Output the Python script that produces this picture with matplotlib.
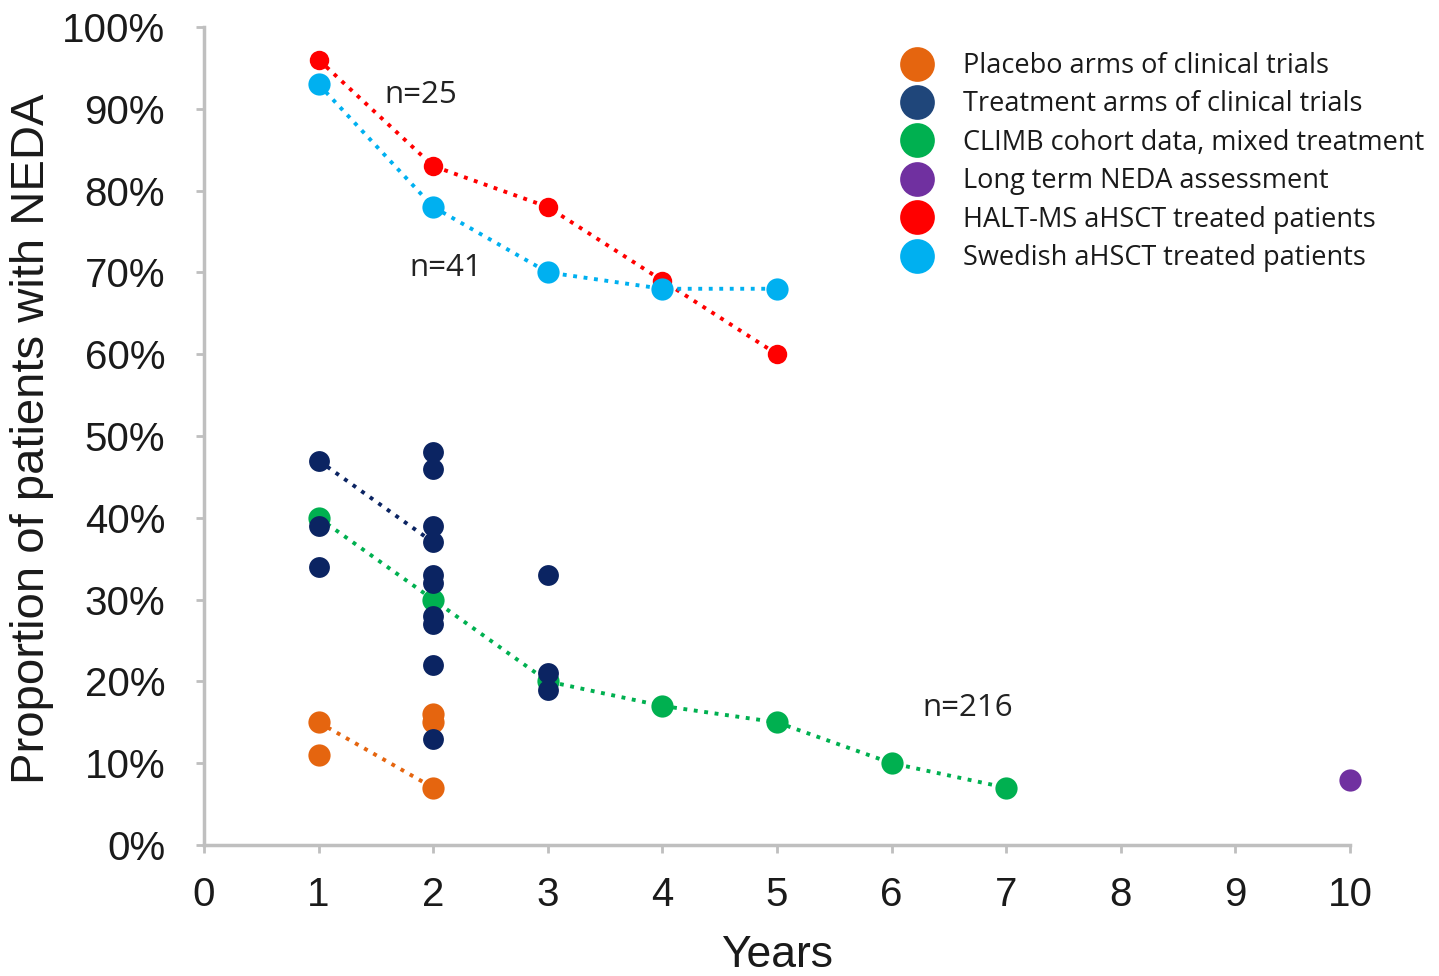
import matplotlib
matplotlib.use("Agg")
import matplotlib.pyplot as plt
from matplotlib.lines import Line2D

# ---- data (percent) ----
placebo_x = [1, 1, 2, 2, 2]
placebo_y = [15, 11, 16, 15, 7]
placebo_line_x = [1, 2]
placebo_line_y = [15, 7]

treat_x = [1, 1, 1, 2, 2, 2, 2, 2, 2, 2, 2, 2, 2, 3, 3, 3]
treat_y = [47, 39, 34, 48, 46, 39, 37, 33, 32, 28, 27, 22, 13, 33, 21, 19]
treat_line_x = [1, 2]
treat_line_y = [47, 37]

climb_x = [1, 2, 3, 4, 5, 6, 7]
climb_y = [40, 30, 20, 17, 15, 10, 7]

longterm_x = [10]
longterm_y = [8]

halt_x = [1, 2, 3, 4, 5]
halt_y = [96, 83, 78, 69, 60]

swed_x = [1, 2, 3, 4, 5]
swed_y = [93, 78, 70, 68, 68]

labels = ["Placebo arms of clinical trials",
          "Treatment arms of clinical trials",
          "CLIMB cohort data, mixed treatment",
          "Long term NEDA assessment",
          "HALT-MS aHSCT treated patients",
          "Swedish aHSCT treated patients"]

annot_text = ["n=25", "n=41", "n=216"]
annot_x = [1.89, 2.11, 6.66]
annot_y = [91.7, 70.5, 16.7]

xticks = list(range(0, 11))
yticks = list(range(0, 101, 10))

# ---- colours ----
c_orange = "#E5650F"
c_navy = "#0B2462"
c_navy_leg = "#1F467A"
c_green = "#00B050"
c_purple = "#7030A0"
c_red = "#FF0000"
c_cyan = "#00B0F0"

fig = plt.figure(figsize=(14.39, 9.76), dpi=100)
ax = fig.add_axes([204/1439, 1-845/976, (1350-204)/1439, (845-27)/976])

ls = (0, (1, 1.7))
lw = 2.8

# lines
ax.plot(halt_x, halt_y, color=c_red, ls=ls, lw=lw, zorder=2)
ax.plot(swed_x, swed_y, color=c_cyan, ls=ls, lw=lw, zorder=2)
ax.plot(climb_x, climb_y, color=c_green, ls=ls, lw=lw, zorder=2)
ax.plot(treat_line_x, treat_line_y, color=c_navy, ls=ls, lw=lw, zorder=2)
ax.plot(placebo_line_x, placebo_line_y, color=c_orange, ls=ls, lw=lw, zorder=2)

# points
kw = dict(mec='none', clip_on=False, ls='none', marker='o')
ax.plot(halt_x, halt_y, color=c_red, ms=14, zorder=3, **kw)
ax.plot(swed_x, swed_y, color=c_cyan, ms=16, zorder=4, **kw)
ax.plot(climb_x, climb_y, color=c_green, ms=16, zorder=3, **kw)
ax.plot(treat_x, treat_y, color=c_navy, ms=15, zorder=4, **kw)
ax.plot(placebo_x, placebo_y, color=c_orange, ms=16, zorder=3, **kw)
ax.plot(longterm_x, longterm_y, color=c_purple, ms=16, zorder=3, **kw)

for t, x, y in zip(annot_text, annot_x, annot_y):
    ax.text(x, y, t, ha='center', va='center', fontsize=22.5, family='Open Sans', color='#222222')

ax.set_xlim(0, 10)
ax.set_ylim(0, 100)
ax.set_xticks(xticks)
ax.set_yticks(yticks)
ax.set_yticklabels([f"{v}%" for v in yticks])
for s in ['top', 'right']:
    ax.spines[s].set_visible(False)
for s in ['left', 'bottom']:
    ax.spines[s].set_color('#BFBFBF')
    ax.spines[s].set_linewidth(2.5)
ax.tick_params(axis='both', colors='#BFBFBF', width=2, length=6, direction='out',
               labelcolor='#1a1a1a', labelsize=29)
ax.tick_params(axis='y', pad=22)
ax.tick_params(axis='x', pad=16)
for lab in ax.get_xticklabels() + ax.get_yticklabels():
    lab.set_family('Liberation Sans')
ax.set_ylabel("Proportion of patients with NEDA", fontsize=34, family='Liberation Sans',
              color='#1a1a1a')
ax.set_xlabel("Years", fontsize=32, family='Liberation Sans', color='#1a1a1a')
ax.yaxis.set_label_coords(-0.131, 0.497)
ax.xaxis.set_label_coords(0.5, -0.11)

handles = [Line2D([], [], ls='none', marker='o', ms=25, mec='none', color=c)
           for c in [c_orange, c_navy_leg, c_green, c_purple, c_red, c_cyan]]
leg = fig.legend(handles, labels, loc='upper left', bbox_to_anchor=(901/1439, 1-52/976),
                 frameon=False, prop={'family': 'Open Sans', 'size': 19.5},
                 handlelength=1.2, handletextpad=1.1, labelspacing=0.385, borderaxespad=0,
                 borderpad=0)
for t in leg.get_texts():
    t.set_color('#1a1a1a')

fig.savefig("out.png", dpi=100)
